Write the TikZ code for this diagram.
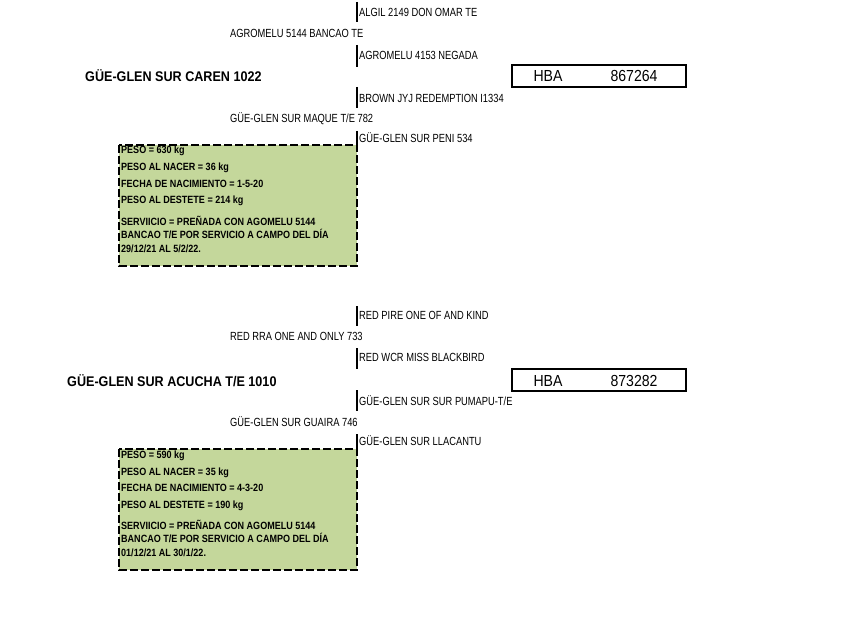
\documentclass[tikz,border=0pt]{standalone}
\usepackage{fontspec}
\newfontfamily\nar{Liberation Sans}[FakeStretch=0.79]
\newfontfamily\narb{Liberation Sans Bold}[FakeStretch=0.9]
\newfontfamily\narbs{Liberation Sans Bold}[FakeStretch=0.86]
\newfontfamily\hbaf{Liberation Sans}[FakeStretch=0.88]
\definecolor{boxgreen}{RGB}{196,215,155}
\tikzset{
  lbl/.style={anchor=base west, inner sep=0pt, font=\nar\fontsize{11.8}{13}\selectfont},
  ttl/.style={anchor=base west, inner sep=0pt, font=\narb\fontsize{14}{16}\selectfont},
  bar/.style={line width=2.6pt},
  info/.style={draw, dash pattern=on 8pt off 3pt, line width=2pt, fill=boxgreen},
  infotxt/.style={anchor=base west, inner sep=0pt, font=\narbs\fontsize{10.5}{12}\selectfont},
  hba/.style={draw, line width=2pt, minimum width=174pt, minimum height=22pt, inner sep=0pt},
  hbatxt/.style={anchor=base, inner sep=0pt, font=\hbaf\fontsize{16}{18}\selectfont}
}
\begin{document}
\begin{tikzpicture}[x=1pt,y=-1pt]
\useasboundingbox (0,0) rectangle (864,639);
% ---------- first animal ----------
\coordinate (a1t) at (357,2);   \coordinate (a1b) at (357,22);
\coordinate (a2t) at (357,45);  \coordinate (a2b) at (357,67);
\coordinate (a3t) at (357,87);  \coordinate (a3b) at (357,108);
\coordinate (a4t) at (357,131); \coordinate (a4b) at (357,145);
\draw[bar] (a1t) -- (a1b);
\draw[bar] (a2t) -- (a2b);
\draw[bar] (a3t) -- (a3b);
\draw[bar] (a4t) -- (a4b);
\node[lbl] (ag1) at (359,16.2) {ALGIL 2149 DON OMAR TE};
\node[lbl] (ag2) at (230,37.2) {AGROMELU 5144 BANCAO TE};
\node[lbl] (ag3) at (359,59.2) {AGROMELU 4153 NEGADA};
\node[ttl] (t1) at (85,82) {GÜE-GLEN SUR CAREN 1022};
\node[lbl] (ag4) at (359,102.2) {BROWN JYJ REDEMPTION I1334};
\node[lbl] (ag5) at (230,122.2) {GÜE-GLEN SUR MAQUE T/E 782};
\node[lbl] (ag6) at (359,142.2) {GÜE-GLEN SUR PENI 534};
\node[hba] (h1) at (599,76) {};
\node[hbatxt] (h1a) at (548,82) {HBA};
\node[hbatxt] (h1b) at (634,82) {867264};
\draw[info] (119,145) rectangle (357,266);
\node[infotxt] (i1a) at (121,154) {PESO = 630 kg};
\node[infotxt] (i1b) at (121,171) {PESO AL NACER = 36 kg};
\node[infotxt] (i1c) at (121,187) {FECHA DE NACIMIENTO = 1-5-20};
\node[infotxt] (i1d) at (121,204) {PESO AL DESTETE = 214 kg};
\node[infotxt] (i1e) at (121,225) {SERVIICIO = PREÑADA CON AGOMELU 5144};
\node[infotxt] (i1f) at (121,238.5) {BANCAO T/E POR SERVICIO A CAMPO DEL DÍA};
\node[infotxt] (i1g) at (121,252) {29/12/21 AL 5/2/22.};
% ---------- second animal ----------
\coordinate (b1t) at (357,306); \coordinate (b1b) at (357,326);
\coordinate (b2t) at (357,348); \coordinate (b2b) at (357,369);
\coordinate (b3t) at (357,390); \coordinate (b3b) at (357,411);
\coordinate (b4t) at (357,434); \coordinate (b4b) at (357,449);
\draw[bar] (b1t) -- (b1b);
\draw[bar] (b2t) -- (b2b);
\draw[bar] (b3t) -- (b3b);
\draw[bar] (b4t) -- (b4b);
\node[lbl] (bg1) at (359,319.2) {RED PIRE ONE OF AND KIND};
\node[lbl] (bg2) at (230,340.2) {RED RRA ONE AND ONLY 733};
\node[lbl] (bg3) at (359,361.2) {RED WCR MISS BLACKBIRD};
\node[ttl] (t2) at (67,386) {GÜE-GLEN SUR ACUCHA T/E 1010};
\node[lbl] (bg4) at (359,405.2) {GÜE-GLEN SUR SUR PUMAPU-T/E};
\node[lbl] (bg5) at (230,426.2) {GÜE-GLEN SUR GUAIRA 746};
\node[lbl] (bg6) at (359,445.2) {GÜE-GLEN SUR LLACANTU};
\node[hba] (h2) at (599,380) {};
\node[hbatxt] (h2a) at (548,386) {HBA};
\node[hbatxt] (h2b) at (634,386) {873282};
\draw[info] (119,449) rectangle (357,570);
\node[infotxt] (i2a) at (121,458) {PESO = 590 kg};
\node[infotxt] (i2b) at (121,475) {PESO AL NACER = 35 kg};
\node[infotxt] (i2c) at (121,491) {FECHA DE NACIMIENTO = 4-3-20};
\node[infotxt] (i2d) at (121,508) {PESO AL DESTETE = 190 kg};
\node[infotxt] (i2e) at (121,529) {SERVIICIO = PREÑADA CON AGOMELU 5144};
\node[infotxt] (i2f) at (121,542.5) {BANCAO T/E POR SERVICIO A CAMPO DEL DÍA};
\node[infotxt] (i2g) at (121,556) {01/12/21 AL 30/1/22.};
\end{tikzpicture}
\end{document}
